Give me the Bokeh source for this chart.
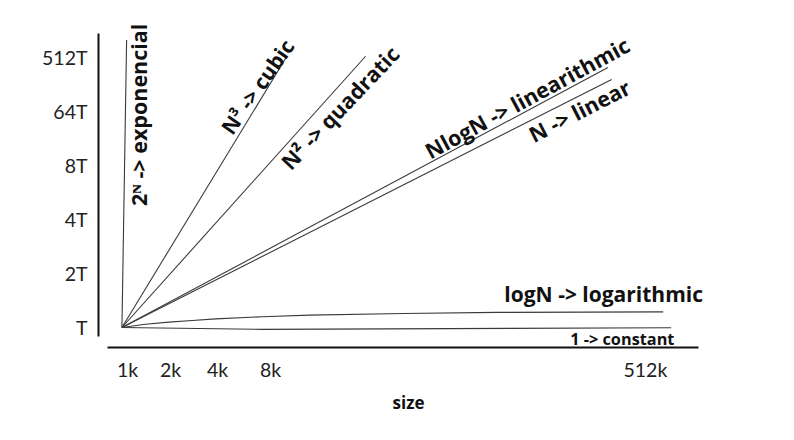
import math
import numpy as np
from bokeh.plotting import figure
from bokeh.models import Range1d, FixedTicker
from bokeh.core.properties import value
from bokeh.embed import file_html
from bokeh.resources import INLINE

# ---- tick values (schematic scale) and labels ----
y_tick_pos = [0, 1, 2, 3, 4, 5]
y_tick_labels = ["T", "2T", "4T", "8T", "64T", "512T"]
x_tick_pos = [0.12, 1.04, 2.04, 3.17, 11.17]
x_tick_labels = ["1k", "2k", "4k", "8k", "512k"]

# ---- series (schematic units) ----
exp_x = [0, 0.10]
exp_y = [0, 5.32]
cubic_x = [0, 3.52]
cubic_y = [0, 5.02]
quad_x = [0, 5.20]
quad_y = [0, 5.02]
nlogn_x = [0, 10.37]
nlogn_y = [0, 4.81]
lin_x = [0, 10.45]
lin_y = [0, 4.59]
log_x = [0, 0.5, 1, 1.5, 2, 3, 4, 6, 8, 11.55]
log_y = [0, 0.06, 0.10, 0.13, 0.16, 0.20, 0.23, 0.26, 0.28, 0.29]
const_x = [0, 3, 11.72]
const_y = [0, -0.035, -0.005]

series = {
    "exp": (exp_x, exp_y),
    "cubic": (cubic_x, cubic_y),
    "quad": (quad_x, quad_y),
    "nlogn": (nlogn_x, nlogn_y),
    "lin": (lin_x, lin_y),
    "log": (log_x, log_y),
    "const": (const_x, const_y),
}

# label: text, series, fraction along x, pixel offset (dx, dy up), angle deg, font px
labels = [
    ("2\u1d3a -> exponencial", "exp", 0.74, (13, 0), 90, 21.5),
    ("N\u00b3 -> cubic", "cubic", 0.873, (-8.5, 4.0), 55, 21),
    ("N\u00b2 -> quadratic", "quad", 0.849, (11, -10.5), 46.5, 21.5),
    ("NlogN -> linearithmic", "nlogn", 0.844, (-5, 10.5), 28.5, 21.5),
    ("N -> linear", "lin", 0.922, (6, -11.7), 27, 21.5),
    ("logN -> logarithmic", "log", 0.89, (0, 17.8), 0, 21),
    ("1 -> constant", "const", 0.911, (0, -10.6), 0, 16.3),
]

LABEL_FONT = "Open Sans"

X0, X1 = -0.5, 12.73
Y0, Y1 = -0.37, 5.70
W, H = 780, 420
BL, BR, BT, BB = 98, 62, 19, 73
FW, FH = W - BL - BR, H - BT - BB
sx = FW / (X1 - X0)
sy = FH / (Y1 - Y0)

p = figure(width=W, height=H, x_range=Range1d(X0, X1), y_range=Range1d(Y0, Y1),
           output_backend="svg", toolbar_location=None,
           min_border_left=BL, min_border_right=BR, min_border_top=BT, min_border_bottom=BB)
p.outline_line_color = None
p.xgrid.visible = False
p.ygrid.visible = False
p.background_fill_color = "white"
p.border_fill_color = "white"

for name, (xs, ys) in series.items():
    p.line(xs, ys, line_color="#3a3a3a", line_width=1.1)

for txt, key, t, (dx, dy), ang, fs in labels:
    xs, ys = series[key]
    ax = t * xs[-1]
    ay = float(np.interp(ax, xs, ys))
    cx = ax + dx / sx
    cy = ay + dy / sy
    p.text(x=[cx], y=[cy], text=[txt], angle=math.radians(ang),
           text_align="center", text_baseline="middle",
           text_font=value(LABEL_FONT), text_font_style="bold",
           text_font_size=f"{fs}px", text_color="#111111")

# axes
for ax_ in (p.xaxis[0], p.yaxis[0]):
    ax_.axis_line_width = 2
    ax_.axis_line_color = "#111111"
    ax_.major_tick_line_color = None
    ax_.minor_tick_line_color = None
    ax_.major_tick_out = 0
    ax_.major_tick_in = 0
    ax_.minor_tick_out = 0
    ax_.major_label_text_font = "Lato"
    ax_.major_label_text_font_size = "19.5px"
    ax_.major_label_text_color = "#222222"

p.yaxis.ticker = FixedTicker(ticks=y_tick_pos)
p.yaxis.major_label_overrides = dict(zip(y_tick_pos, y_tick_labels))
p.yaxis.bounds = (-0.17, 5.44)
p.yaxis.major_label_standoff = 11

p.xaxis.ticker = FixedTicker(ticks=x_tick_pos)
p.xaxis.major_label_overrides = dict(zip(x_tick_pos, x_tick_labels))
p.xaxis.bounds = (-0.31, 12.30)
p.xaxis.major_label_standoff = 10
p.xaxis.axis_label = "size"
p.xaxis.axis_label_text_font = LABEL_FONT
p.xaxis.axis_label_text_font_style = "bold"
p.xaxis.axis_label_text_font_size = "17px"
p.xaxis.axis_label_text_color = "#111111"
p.xaxis.axis_label_standoff = 7

open("out.html", "w").write(file_html(p, INLINE))
